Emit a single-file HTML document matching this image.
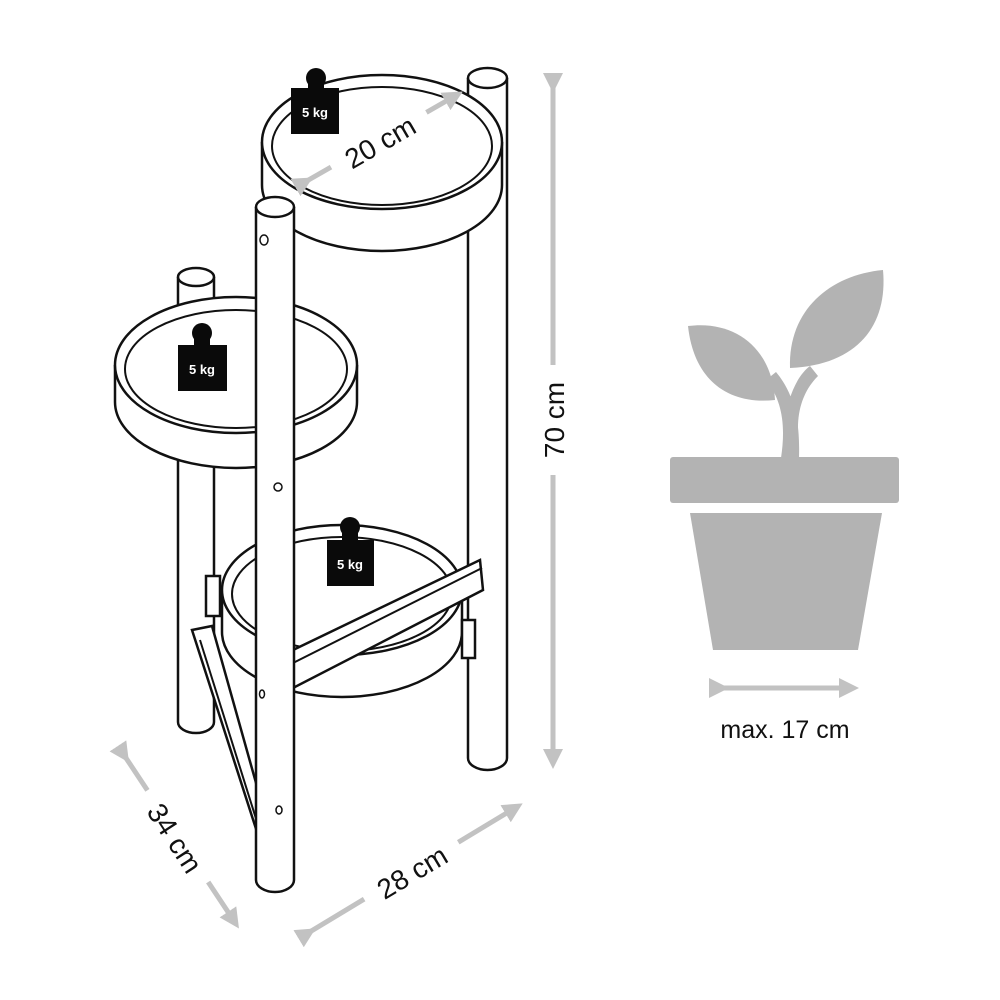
<!DOCTYPE html>
<html><head><meta charset="utf-8"><style>body{margin:0;background:#fff}svg{display:block}</style></head><body>
<svg width="1000" height="1000" viewBox="0 0 1000 1000" xmlns="http://www.w3.org/2000/svg" font-family="Liberation Sans, sans-serif">
<defs>
<marker id="ah" markerWidth="4" markerHeight="4" refX="2.2" refY="2" orient="auto"><path d="M0,0 L4,2 L0,4 z" fill="#c2c2c2"/></marker>
</defs>
<g fill="#fff" stroke="#111" stroke-width="2.5">
<path d="M468,78 V758 A19.5,12 0 0 0 507,758 V78"/>
<ellipse cx="487.5" cy="78" rx="19.5" ry="10"/>
<path d="M178,277 V722 A18,11 0 0 0 214,722 V277"/>
<ellipse cx="196" cy="277" rx="18" ry="9"/>
<path d="M262,142 V185 A120,66 0 0 0 502,185 V142"/>
<ellipse cx="382" cy="142" rx="120" ry="67"/>
<ellipse cx="382" cy="146" rx="110" ry="59" fill="none" stroke-width="2"/>
<path d="M115,365 V402 A121,66 0 0 0 357,402 V365"/>
<ellipse cx="236" cy="365" rx="121" ry="68"/>
<ellipse cx="236" cy="369" rx="111" ry="59" fill="none" stroke-width="2"/>
<path d="M222,590 V632 A120,65 0 0 0 462,632 V590"/>
<ellipse cx="342" cy="590" rx="120" ry="65"/>
<ellipse cx="342" cy="594" rx="110" ry="57" fill="none" stroke-width="2"/>
<polygon points="192,630 212,626 258,790 258,835"/>
<line x1="200" y1="640" x2="258" y2="825" stroke-width="2"/>
<rect x="206" y="576" width="14" height="40"/>
<rect x="462" y="620" width="13" height="38"/>
<polygon points="293,650 480,560 483,590 293,688"/>
<line x1="293" y1="663" x2="482" y2="568" stroke-width="2"/>
<path d="M256,207 V880 A19,12 0 0 0 294,880 V207"/>
<ellipse cx="275" cy="207" rx="19" ry="10"/>
<ellipse cx="264" cy="240" rx="4" ry="5" stroke-width="1.5"/>
<ellipse cx="278" cy="487" rx="4" ry="4" stroke-width="1.5"/>
<ellipse cx="262" cy="694" rx="2.5" ry="4" stroke-width="1.5"/>
<ellipse cx="279" cy="810" rx="3" ry="4" stroke-width="1.5"/>
</g>
<g fill="#0a0a0a">
<circle cx="316" cy="78" r="10"/><rect x="308" y="80" width="16" height="12"/><rect x="291" y="88" width="48" height="46"/>
<circle cx="202" cy="333" r="10"/><rect x="194" y="335" width="16" height="12"/><rect x="178" y="345" width="49" height="46"/>
<circle cx="350" cy="527" r="10"/><rect x="342" y="529" width="16" height="12"/><rect x="327" y="540" width="47" height="46"/>
</g>
<g fill="#fff" font-weight="bold" font-size="13" text-anchor="middle">
<text x="315" y="117">5 kg</text><text x="202" y="374">5 kg</text><text x="350" y="569">5 kg</text>
</g>
<g stroke="#c2c2c2" stroke-width="5" fill="none" marker-start="url(#ah)" marker-end="url(#ah)">
<line x1="553" y1="84" x2="553" y2="760"/>
<line x1="305" y1="182" x2="455" y2="96"/>
<line x1="308" y1="933" x2="515" y2="808"/>
<line x1="124" y1="755" x2="234" y2="921"/>
<line x1="720" y1="688" x2="850" y2="688"/>
</g>
<rect x="535" y="365" width="36" height="110" fill="#fff"/>
<g fill="#111" font-size="28" text-anchor="middle">
<g transform="translate(380,142) rotate(-30)"><rect x="-55" y="-19" width="110" height="32" fill="#fff"/><text y="10">20 cm</text></g>
<text transform="translate(564,420) rotate(-90)">70 cm</text>
<g transform="translate(412,872) rotate(-31)"><rect x="-55" y="-19" width="110" height="32" fill="#fff"/><text y="10">28 cm</text></g>
<g transform="translate(175,838) rotate(57)"><rect x="-55" y="-19" width="110" height="32" fill="#fff"/><text y="10">34 cm</text></g>
<text x="785" y="738" font-size="25">max. 17 cm</text>
</g>
<g fill="#b3b3b3">
<rect x="670" y="457" width="229" height="46" rx="3"/>
<polygon points="690,513 882,513 858,650 713,650"/>
<path d="M781,458 C786,425 782,400 766,380 L776,372 C796,396 800,425 799,458 Z"/>
<path d="M784,425 C788,395 798,375 810,366 L818,376 C806,388 798,405 798,428 Z"/>
<path d="M688,326 C735,320 772,348 775,400 C730,405 694,382 688,326 Z"/>
<path d="M790,368 C788,310 830,275 883,270 C888,325 858,365 790,368 Z"/>
</g>
</svg>
</body></html>
